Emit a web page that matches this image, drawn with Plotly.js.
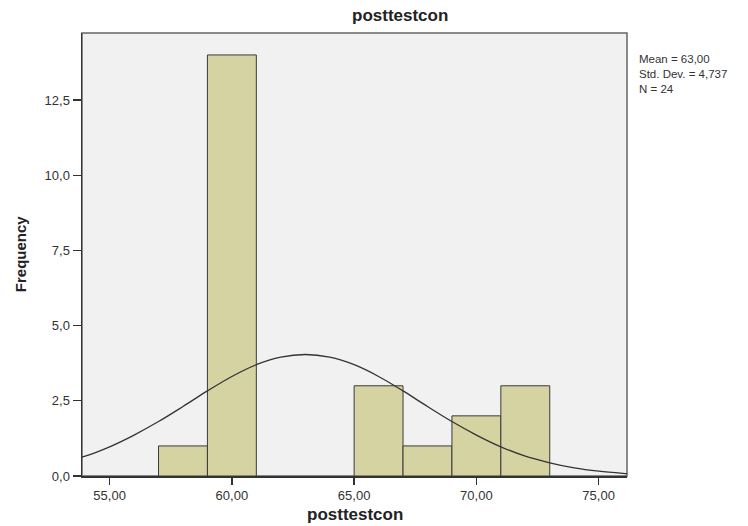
<!DOCTYPE html>
<html>
<head>
<meta charset="utf-8">
<script src="https://cdn.plot.ly/plotly-3.0.1.min.js"></script>
<style>html,body{margin:0;padding:0;background:#fff;}#chart{width:748px;height:526px;}</style>
</head>
<body>
<div id="chart"></div>
<script>
// Histogram bins (centres, bin width 2) and frequencies
const binCenters = [58, 60, 66, 68, 70, 72];
const frequencies = [1, 14, 3, 1, 2, 3];
// Normal curve
const curveX = [53.85, 54, 55, 56, 57, 58, 59, 60, 61, 62, 63, 64, 65, 66, 67, 68, 69, 70, 71, 72, 73, 74, 75, 76, 76.2];
const curveY = [0.63, 0.66, 0.97, 1.36, 1.81, 2.31, 2.83, 3.31, 3.70, 3.95, 4.04, 3.95, 3.70, 3.31, 2.83, 2.31, 1.81, 1.36, 0.97, 0.66, 0.44, 0.27, 0.16, 0.09, 0.08];
const xTicks = [55, 60, 65, 70, 75];
const yTicks = [0, 2.5, 5, 7.5, 10, 12.5];
const statsLines = ["Mean = 63,00", "Std. Dev. = 4,737", "N = 24"];

const font = "Liberation Sans, Arial, sans-serif";

const traces = [
  {
    type: "bar",
    x: binCenters,
    y: frequencies,
    width: 2,
    marker: {color: "#d6d3a2", line: {color: "#3a3a3a", width: 1}},
    hoverinfo: "skip"
  },
  {
    type: "scatter",
    mode: "lines",
    x: curveX,
    y: curveY,
    line: {color: "#333333", width: 1.3, shape: "spline"},
    hoverinfo: "skip"
  }
];

const annotations = [
  {
    text: "<b>Frequency</b>", textangle: -90,
    xref: "paper", yref: "paper", x: -0.1138, y: 0.503,
    xanchor: "center", yanchor: "middle", showarrow: false,
    font: {family: font, size: 15, color: "#222"}
  },
  {
    text: "<b>posttestcon</b>",
    xref: "paper", yref: "paper", x: 0.5, y: -0.086,
    xanchor: "center", yanchor: "middle", showarrow: false,
    font: {family: font, size: 17, color: "#222"}
  },
  {
    text: statsLines.join("<br>"),
    xref: "paper", yref: "paper", x: 1.02, y: 0.908,
    xanchor: "left", yanchor: "middle", align: "left", showarrow: false,
    borderpad: 0,
    font: {family: font, size: 11.5, color: "#333"}
  }
];

const layout = {
  width: 748,
  height: 526,
  margin: {l: 82, r: 121, t: 33, b: 50},
  paper_bgcolor: "#ffffff",
  plot_bgcolor: "#f1f1f1",
  showlegend: false,
  separators: ",.",
  bargap: 0,
  font: {family: font, color: "#333", size: 13},
  title: {
    text: "<b>posttestcon</b>",
    font: {family: font, size: 17, color: "#222"},
    xref: "container", x: 0.535, xanchor: "center",
    yref: "container", y: 0.972, yanchor: "middle"
  },
  xaxis: {
    range: [53.87, 76.16],
    tickvals: xTicks,
    tickformat: ".2f",
    ticks: "outside", ticklen: 7, tickcolor: "#333", tickwidth: 1.3,
    showgrid: false, zeroline: false,
    showline: true, linecolor: "#333", linewidth: 1.5,
    tickfont: {family: font, size: 13, color: "#333"}
  },
  yaxis: {
    range: [0, 14.73],
    tickvals: yTicks,
    tickformat: ".1f",
    ticks: "outside", ticklen: 8, tickcolor: "#333", tickwidth: 1.3,
    showgrid: false, zeroline: false,
    showline: true, linecolor: "#333", linewidth: 1.5,
    tickfont: {family: font, size: 13, color: "#333"}
  },
  shapes: [
    {type: "rect", xref: "paper", yref: "paper", x0: 0, x1: 1, y0: 0, y1: 1,
     line: {color: "#666666", width: 1.5}, fillcolor: "rgba(0,0,0,0)", layer: "below"}
  ],
  annotations: annotations
};

Plotly.newPlot("chart", traces, layout, {displayModeBar: false, staticPlot: true});
</script>
</body>
</html>
